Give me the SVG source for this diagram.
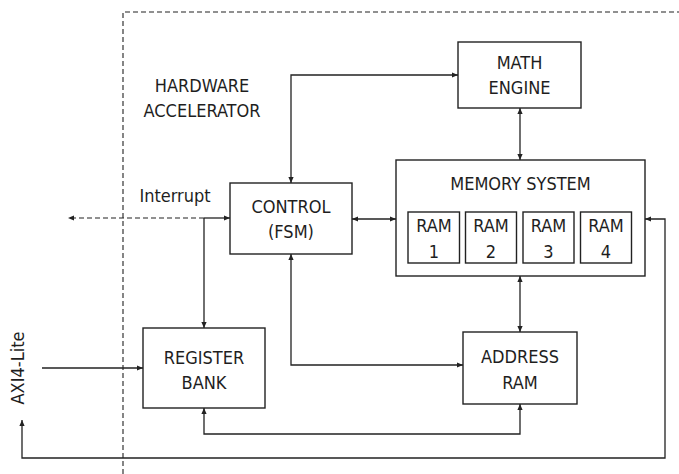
<svg xmlns="http://www.w3.org/2000/svg" width="679" height="474" viewBox="0 0 679 474">
<style>
  text { font-family: "DejaVu Sans Condensed", "Liberation Sans Narrow", "Open Sans", sans-serif; font-size: 18px; fill: #1e1e1e; text-anchor: middle; }
  .box { fill: #fff; stroke: #222; stroke-width: 1.4; }
  .ln { fill: none; stroke: #222; stroke-width: 1.3; }
  .dash { fill: none; stroke: #222; stroke-width: 1.1; stroke-dasharray: 5 3; }
</style>
<defs>
  <marker id="ah" viewBox="0 0 6 6" refX="6" refY="3" markerWidth="6" markerHeight="6" markerUnits="userSpaceOnUse" orient="auto-start-reverse">
    <path d="M0,0.4 L6,3 L0,5.6 Z" fill="#222"/>
  </marker>
</defs>
<g id="boundary">
  <path class="dash" d="M123,474 V12 H679"/>
  <text x="202" y="92">HARDWARE</text>
  <text x="202" y="117">ACCELERATOR</text>
</g>
<g id="connectors">
  <path class="ln" d="M291,183 V75 H458" marker-start="url(#ah)" marker-end="url(#ah)"/>
  <path class="ln" d="M520,108 V160" marker-start="url(#ah)" marker-end="url(#ah)"/>
  <path class="ln" d="M352,219 H396" marker-start="url(#ah)" marker-end="url(#ah)"/>
  <path class="ln" d="M520,276 V332" marker-start="url(#ah)" marker-end="url(#ah)"/>
  <path class="ln" d="M291,254 V365 H463" marker-start="url(#ah)" marker-end="url(#ah)"/>
  <path class="ln" d="M204,408 V434 H520 V404" marker-start="url(#ah)" marker-end="url(#ah)"/>
  <path class="dash" d="M204,218 H68" marker-end="url(#ah)"/>
  <path class="ln" d="M204,218 H230" marker-end="url(#ah)"/>
  <path class="ln" d="M204,218 V328" marker-end="url(#ah)"/>
  <path class="ln" d="M42,368 H143" marker-end="url(#ah)"/>
  <path class="ln" d="M645,219 H665 V458 H22 V420" marker-start="url(#ah)" marker-end="url(#ah)"/>
  <text x="175" y="202">Interrupt</text>
  <text transform="translate(24,368) rotate(-90)">AXI4-Lite</text>
</g>
<g id="control">
  <rect class="box" x="230" y="183" width="122" height="71"/>
  <text x="291" y="213">CONTROL</text>
  <text x="291" y="238">(FSM)</text>
</g>
<g id="math-engine">
  <rect class="box" x="458" y="42" width="123" height="66"/>
  <text x="519.5" y="69">MATH</text>
  <text x="519.5" y="94">ENGINE</text>
</g>
<g id="memory-system">
  <rect class="box" x="396" y="160" width="249" height="116"/>
  <text x="520.5" y="190">MEMORY SYSTEM</text>
  <g id="ram1"><rect class="box" x="408" y="212" width="51.5" height="51"/><text x="434" y="232">RAM</text><text x="434" y="258">1</text></g>
  <g id="ram2"><rect class="box" x="465.5" y="212" width="51" height="51"/><text x="491" y="232">RAM</text><text x="491" y="258">2</text></g>
  <g id="ram3"><rect class="box" x="523" y="212" width="51" height="51"/><text x="548.5" y="232">RAM</text><text x="548.5" y="258">3</text></g>
  <g id="ram4"><rect class="box" x="580.5" y="212" width="51" height="51"/><text x="606" y="232">RAM</text><text x="606" y="258">4</text></g>
</g>
<g id="register-bank">
  <rect class="box" x="143" y="328" width="122" height="80"/>
  <text x="204" y="364">REGISTER</text>
  <text x="204" y="389">BANK</text>
</g>
<g id="address-ram">
  <rect class="box" x="463" y="332" width="114" height="72"/>
  <text x="520" y="363">ADDRESS</text>
  <text x="520" y="389">RAM</text>
</g>
</svg>
